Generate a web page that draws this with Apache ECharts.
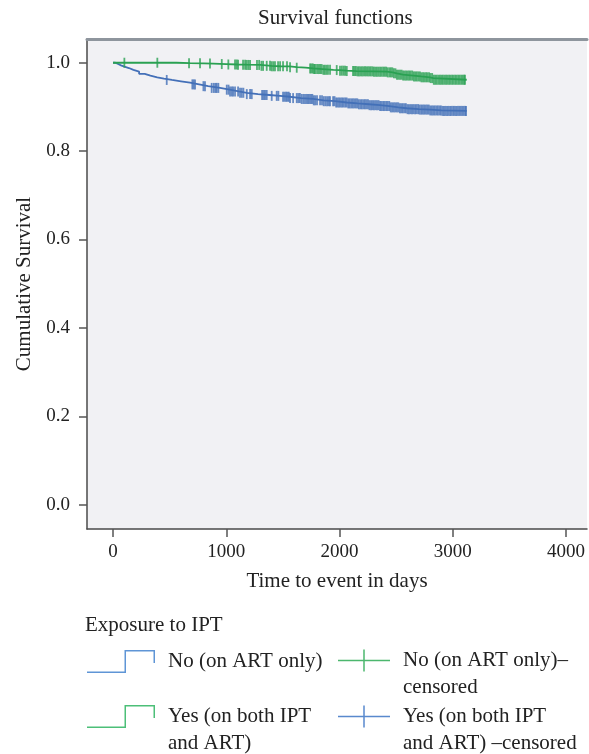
<!DOCTYPE html>
<html><head><meta charset="utf-8">
<script src="https://cdn.jsdelivr.net/npm/echarts@6/dist/echarts.min.js"></script>
<style>html,body{margin:0;padding:0;background:#fff}#c{width:589px;height:754px}</style>
</head><body><div id="c"></div>
<script>
const chartTitle = 'Survival functions';
const xAxisName = 'Time to event in days';
const yAxisName = 'Cumulative Survival';
const legendTitle = 'Exposure to IPT';
const xTicks = [0, 1000, 2000, 3000, 4000];
const yTicks = [0, 0.2, 0.4, 0.6, 0.8, 1.0];
const seriesNames = ['No (on ART only)', 'Yes (on both IPT and ART)', 'No (on ART only)–censored', 'Yes (on both IPT and ART) –censored'];
const legendLabels = ['No (on ART only)', 'Yes (on both IPT\nand ART)', 'No (on ART only)–\ncensored', 'Yes (on both IPT\nand ART) –censored'];

// Kaplan-Meier step points [days, survival]
const blueCurve = [[0,1],[20,0.997],[45,0.994],[70,0.991],[100,0.988],[140,0.984],[180,0.980],[230,0.975],[280,0.971],[330,0.967],[390,0.964],[450,0.961],[520,0.958],[600,0.955],[680,0.951],[760,0.947],[840,0.943],[945,0.939],[1030,0.935],[1110,0.932],[1181,0.929],[1280,0.927],[1380,0.925],[1475,0.923],[1560,0.920],[1660,0.918],[1766,0.915],[1860,0.913],[1960,0.910],[2064,0.908],[2160,0.906],[2260,0.904],[2358,0.902],[2440,0.899],[2520,0.897],[2593,0.895],[2700,0.894],[2799,0.892],[2900,0.891],[3123,0.891]];
const greenCurve = [[0,1],[560,0.999],[680,0.9986],[800,0.998],[886,0.997],[1000,0.996],[1100,0.9955],[1180,0.995],[1300,0.993],[1400,0.992],[1475,0.9918],[1560,0.990],[1622,0.9887],[1700,0.987],[1769,0.9857],[1850,0.984],[1946,0.9834],[2000,0.982],[2063,0.9812],[2150,0.9805],[2299,0.9797],[2417,0.9782],[2470,0.976],[2505,0.9729],[2560,0.971],[2652,0.969],[2720,0.967],[2799,0.9653],[2828,0.9615],[3123,0.9615]];

// censoring times (days)
const greenCensorTimes = [100,391,671,768,856,960,1018,1077,1092,1104,1148,1166,1180,1195,1210,1271,1290,1310,1325,1357,1386,1400,1415,1430,1457,1475,1501,1536,1563,1622,1740,1752,1764,1775,1784,1801,1815,1828,1842,1857,1870,1884,1898,1916,1975,2004,2020,2035,2049,2064,2119,2131,2144,2158,2170,2183,2197,2210,2224,2236,2250,2263,2276,2290,2303,2316,2330,2344,2358,2372,2386,2399,2412,2425,2440,2453,2466,2480,2494,2507,2520,2534,2548,2561,2575,2588,2602,2615,2628,2642,2656,2669,2682,2696,2710,2723,2737,2750,2764,2777,2791,2804,2818,2832,2845,2858,2872,2886,2899,2912,2926,2940,2953,2967,2980,2994,3007,3021,3034,3048,3061,3075,3088,3100,3108];
const blueCensorTimes = [474,700,712,724,798,812,871,890,905,915,930,1004,1020,1033,1048,1060,1077,1104,1121,1136,1151,1181,1210,1225,1316,1330,1342,1357,1401,1445,1460,1501,1515,1528,1540,1552,1563,1590,1622,1636,1650,1665,1680,1695,1710,1722,1735,1748,1760,1772,1785,1801,1828,1845,1860,1875,1890,1905,1916,1943,1956,1970,1983,1996,2010,2023,2036,2050,2063,2077,2090,2104,2117,2130,2144,2157,2170,2184,2197,2211,2224,2237,2251,2264,2278,2291,2304,2318,2331,2345,2358,2371,2385,2398,2412,2425,2439,2452,2465,2479,2492,2506,2519,2533,2546,2559,2573,2586,2600,2613,2627,2640,2653,2667,2680,2694,2707,2721,2734,2747,2761,2774,2788,2801,2815,2828,2841,2855,2868,2882,2895,2909,2922,2935,2949,2962,2976,2989,3003,3016,3029,3043,3056,3070,3083,3097,3110,3117];

function survAt(curve, t) {
  let s = curve[0][1];
  for (const p of curve) { if (p[0] <= t) s = p[1]; else break; }
  return s;
}
const greenCensor = greenCensorTimes.map(t => [t, survAt(greenCurve, t)]);
const blueCensor = blueCensorTimes.map(t => [t, survAt(blueCurve, t)]);

const FONT = 'Liberation Serif';
const BLUE = '#4470b8', GREEN = '#2aa152';
// legend icons; the multi-line variants carry an invisible zero-area point below so the label's first line aligns with the glyph
const stepIcon = 'path://M0,21.5 L37.5,21.5 L37.5,0 L68,0 L68,13 L66.5,13 L66.5,1.5 L39,1.5 L39,23 L0,23 Z';
const stepIconTall = 'path://M0,21.5 L37.5,21.5 L37.5,0 L68,0 L68,13 L66.5,13 L66.5,1.5 L39,1.5 L39,23 L0,23 Z M0,50 L0.01,50 L0,50 Z';
const crossIconTall = 'path://M0,10.25 L52,10.25 L52,11.75 L0,11.75 Z M25.25,0 L26.75,0 L26.75,22 L25.25,22 Z M0,49 L0.01,49 L0,49 Z';
const labelMap = {};
seriesNames.forEach((n, i) => labelMap[n] = legendLabels[i]);
function mkLegend(i, icon, color, left, top, w, h) {
  return { left: left, top: top, padding: 0, orient: 'vertical', itemWidth: w, itemHeight: h, selectedMode: false,
    formatter: n => labelMap[n],
    textStyle: { fontFamily: FONT, fontSize: 21, color: '#222', lineHeight: 27, padding: [0, 0, 0, 8] },
    data: [{ name: seriesNames[i], icon: icon, itemStyle: { color: color, borderWidth: 0 } }] };
}

const chart = echarts.init(document.getElementById('c'));
chart.setOption({
  animation: false,
  backgroundColor: '#ffffff',
  title: [
    { text: chartTitle, left: 258, top: 8, padding: 0, textStyle: { fontFamily: FONT, fontSize: 21, fontWeight: 'normal', color: '#222' } },
    { text: legendTitle, left: 85, top: 615, padding: 0, textStyle: { fontFamily: FONT, fontSize: 21, fontWeight: 'normal', color: '#222' } }
  ],
  legend: [
    mkLegend(0, stepIcon, '#5f95d6', 87, 648, 68, 23),
    mkLegend(1, stepIconTall, '#4cbf78', 87, 703, 68, 50),
    mkLegend(2, crossIconTall, '#1fa54a', 338, 647, 52, 49),
    mkLegend(3, crossIconTall, '#2f6cc0', 338, 703, 52, 49)
  ],
  grid: { left: 87, right: 2, top: 39, bottom: 225, show: true, backgroundColor: '#f1f1f4', borderWidth: 0 },
  xAxis: [{
    type: 'value', min: -230, max: 4185,
    name: xAxisName, nameLocation: 'middle', nameGap: 42,
    nameTextStyle: { fontFamily: FONT, fontSize: 21, color: '#222' },
    axisLine: { show: true, onZero: false, lineStyle: { color: '#4a4a4a', width: 1.5 } },
    axisTick: { show: true, length: 8, customValues: xTicks, lineStyle: { color: '#555', width: 1.5 } },
    axisLabel: { customValues: xTicks, margin: 14, fontFamily: FONT, fontSize: 19, color: '#222', formatter: v => String(v) },
    splitLine: { show: false }
  }, {
    type: 'value', position: 'top', min: -230, max: 4185,
    axisLine: { show: true, onZero: false, lineStyle: { color: '#8e959d', width: 3 } },
    axisTick: { show: false }, axisLabel: { show: false }, splitLine: { show: false }
  }],
  yAxis: {
    type: 'value', min: -0.0551, max: 1.0537,
    name: yAxisName, nameLocation: 'middle', nameGap: 47,
    nameTextStyle: { fontFamily: FONT, fontSize: 21, color: '#222' },
    axisLine: { show: true, onZero: false, lineStyle: { color: '#4a4a4a', width: 1.5 } },
    axisTick: { show: true, length: 8, customValues: yTicks, lineStyle: { color: '#555', width: 1.5 } },
    axisLabel: { customValues: yTicks, margin: 17, fontFamily: FONT, fontSize: 19, color: '#222', formatter: v => v.toFixed(1) },
    splitLine: { show: false }
  },
  series: [
    { name: seriesNames[0], type: 'line', step: 'end', data: blueCurve, showSymbol: false, color: BLUE, lineStyle: { width: 1.8, color: BLUE }, silent: true, z: 2 },
    { name: seriesNames[1], type: 'line', step: 'end', data: greenCurve, showSymbol: false, color: GREEN, lineStyle: { width: 1.8, color: GREEN }, silent: true, z: 2 },
    { name: seriesNames[2], type: 'scatter', data: greenCensor, symbol: 'rect', symbolSize: [1.8, 10], color: GREEN, itemStyle: { color: GREEN }, silent: true, z: 3 },
    { name: seriesNames[3], type: 'scatter', data: blueCensor, symbol: 'rect', symbolSize: [1.8, 10], color: BLUE, itemStyle: { color: BLUE }, silent: true, z: 3 }
  ]
});
</script>
</body></html>
